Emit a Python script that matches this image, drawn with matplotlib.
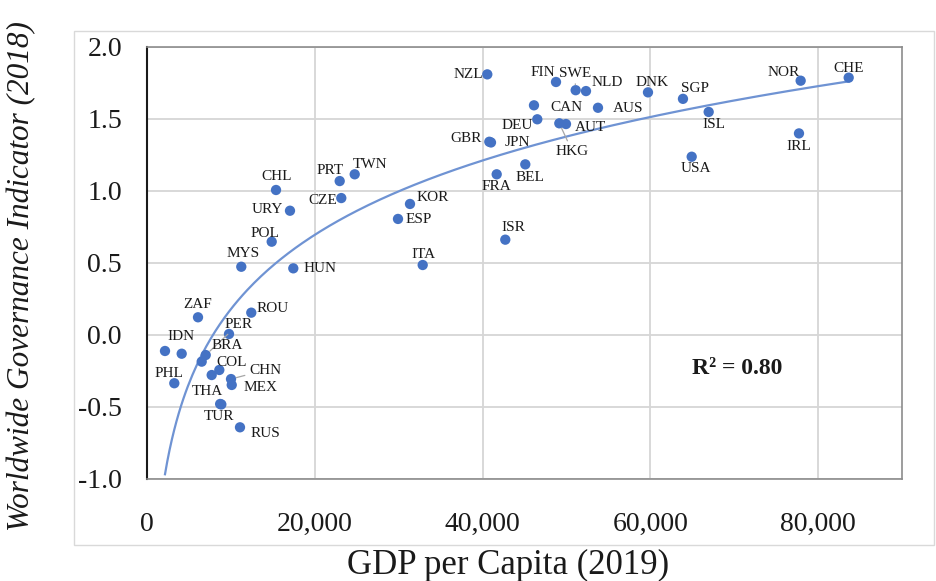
import numpy as np
import matplotlib
matplotlib.use("Agg")
import matplotlib.pyplot as plt
from matplotlib.patches import Rectangle

# ---------------- data ----------------
countries = ["NZL", "FIN", "SWE", "NLD", "DNK", "SGP", "CAN", "AUS", "DEU", "HKG",
             "AUT", "GBR", "JPN", "BEL", "FRA", "USA", "ISL", "NOR", "CHE", "IRL",
             "CHL", "PRT", "TWN", "CZE", "URY", "KOR", "ESP", "POL", "MYS", "HUN",
             "ITA", "ISR", "ZAF", "ROU", "", "", "IDN", "PHL", "PER", "BRA",
             "", "COL", "CHN", "MEX", "THA", "TUR", "RUS"]
gdp = [40565, 48755, 51100, 52330, 59720, 63890, 46130, 53760, 46525, 49150,
       49945, 40805, 41005, 45095, 41685, 64930, 66955, 77920, 83645, 77720,
       15380, 22970, 24760, 23160, 17045, 31350, 29920, 14865, 11240, 17440,
       32865, 42710, 6080, 12430, 9775, 2145, 4135, 3255, 7000, 6520,
       7710, 8620, 10015, 10100, 8720, 8860, 11085]
wgi = [1.810, 1.757, 1.700, 1.694, 1.685, 1.640, 1.595, 1.578, 1.498, 1.470,
       1.465, 1.342, 1.337, 1.185, 1.116, 1.238, 1.549, 1.766, 1.787, 1.400,
       1.007, 1.069, 1.116, 0.951, 0.863, 0.910, 0.806, 0.648, 0.474, 0.463,
       0.486, 0.662, 0.123, 0.155, 0.007, -0.111, -0.130, -0.335, -0.139, -0.185,
       -0.278, -0.243, -0.306, -0.347, -0.479, -0.482, -0.641]
r2_text = "R\u00b2 = 0.80"
x_ticks = [0, 20000, 40000, 60000, 80000]
y_ticks = [-1.0, -0.5, 0.0, 0.5, 1.0, 1.5, 2.0]

# label offsets (pixels, image coords: +dx right, +dy down)
label_offsets = {
    "NZL": (-19, 0), "FIN": (-13, -9), "SWE": (-1, -17), "NLD": (21, -9),
    "DNK": (4, -10), "SGP": (12, -10), "CAN": (32, 2), "AUS": (30, 1),
    "DEU": (-20, 6), "HKG": (13, 28), "AUT": (24, 3), "GBR": (-23, -3),
    "JPN": (26, 0), "BEL": (5, 13), "FRA": (0, 12), "USA": (4, 12),
    "ISL": (5, 13), "NOR": (-17, -8), "CHE": (0, -9), "IRL": (0, 13),
    "CHL": (1, -13), "PRT": (-10, -11), "TWN": (15, -10), "CZE": (-19, 2),
    "URY": (-23, -1), "KOR": (23, -6), "ESP": (21, 1), "POL": (-7, -8),
    "MYS": (2, -13), "HUN": (27, 0), "ITA": (1, -11), "ISR": (8, -12),
    "ZAF": (0, -13), "ROU": (21, -4), "IDN": (-1, -17), "PHL": (-5, -10),
    "PER": (33, -31), "BRA": (26, -16), "COL": (12, -7), "CHN": (34, -9),
    "MEX": (29, 3), "THA": (-13, -12), "TUR": (-2, 12), "RUS": (25, 6),
}
leaders = {"SWE", "HKG", "PER", "CHN"}

# ---------------- figure ----------------
plt.rcParams['font.family'] = ['Liberation Serif', 'DejaVu Serif']
W, H = 937, 581
fig = plt.figure(figsize=(W / 100, H / 100), dpi=100)
fig.patch.set_facecolor("white")

# outer chart box
fig.add_artist(Rectangle((74 / W, 1 - 545 / H), (934 - 74) / W, (545 - 31) / H,
                         transform=fig.transFigure, fill=False,
                         edgecolor="#D9D9D9", lw=1.0))

ax = fig.add_axes([147 / W, 1 - 479 / H, (902 - 147) / W, (479 - 47) / H])
ax.set_xlim(0, 90000)
ax.set_ylim(-1.0, 2.0)
ax.set_xticks(x_ticks)
ax.set_xticklabels([f"{v:,}" for v in x_ticks])
ax.set_yticks(y_ticks)
ax.set_yticklabels([f"{v:.1f}" for v in y_ticks])
ax.tick_params(axis="both", length=0, labelsize=20, colors="#1a1a1a")
ax.tick_params(axis="x", pad=24)
ax.tick_params(axis="y", pad=18)
ax.grid(True, color="#D6D6D6", lw=1.3)
ax.set_axisbelow(True)
for side in ["top", "right", "bottom"]:
    ax.spines[side].set_color("#8C8C8C")
    ax.spines[side].set_linewidth(1.2)
ax.spines["left"].set_color("#1a1a1a")
ax.spines["left"].set_linewidth(1.5)

gx = np.array(gdp, dtype=float)
gy = np.array(wgi, dtype=float)

# logarithmic trendline
a, b = np.polyfit(np.log(gx), gy, 1)
xs = np.linspace(gx.min(), gx.max(), 300)
ax.plot(xs, a * np.log(xs) + b, color="#6F93D3", lw=1.6, zorder=2)

ax.scatter(gx, gy, s=55, color="#4472C4", edgecolors="none", zorder=3)

for name, x, y in zip(countries, gx, gy):
    if not name:
        continue
    dx, dy = label_offsets.get(name, (18, 0))
    kw = {}
    if name in leaders:
        kw["arrowprops"] = dict(arrowstyle="-", color="#A6A6A6", lw=0.9,
                                shrinkA=1, shrinkB=4)
    ax.annotate(name, xy=(x, y), xytext=(dx, -dy), textcoords="offset pixels",
                ha="center", va="center", fontsize=11, color="#1a1a1a",
                zorder=4, **kw)

ax.text((737 - 147) / (902 - 147), 1 - (368 - 47) / (479 - 47), r2_text,
        transform=ax.transAxes, fontsize=17, fontweight="bold",
        ha="center", va="center", color="#1a1a1a")

fig.text(508 / W, 1 - 565 / H, "GDP per Capita (2019)", fontsize=25,
         ha="center", va="center", color="#1a1a1a")
fig.text(22 / W, 1 - 276 / H, "Worldwide Governance Indicator (2018)",
         fontsize=22.5, style="italic", rotation=90,
         ha="center", va="center", color="#1a1a1a")

fig.savefig("out.png", dpi=100)
